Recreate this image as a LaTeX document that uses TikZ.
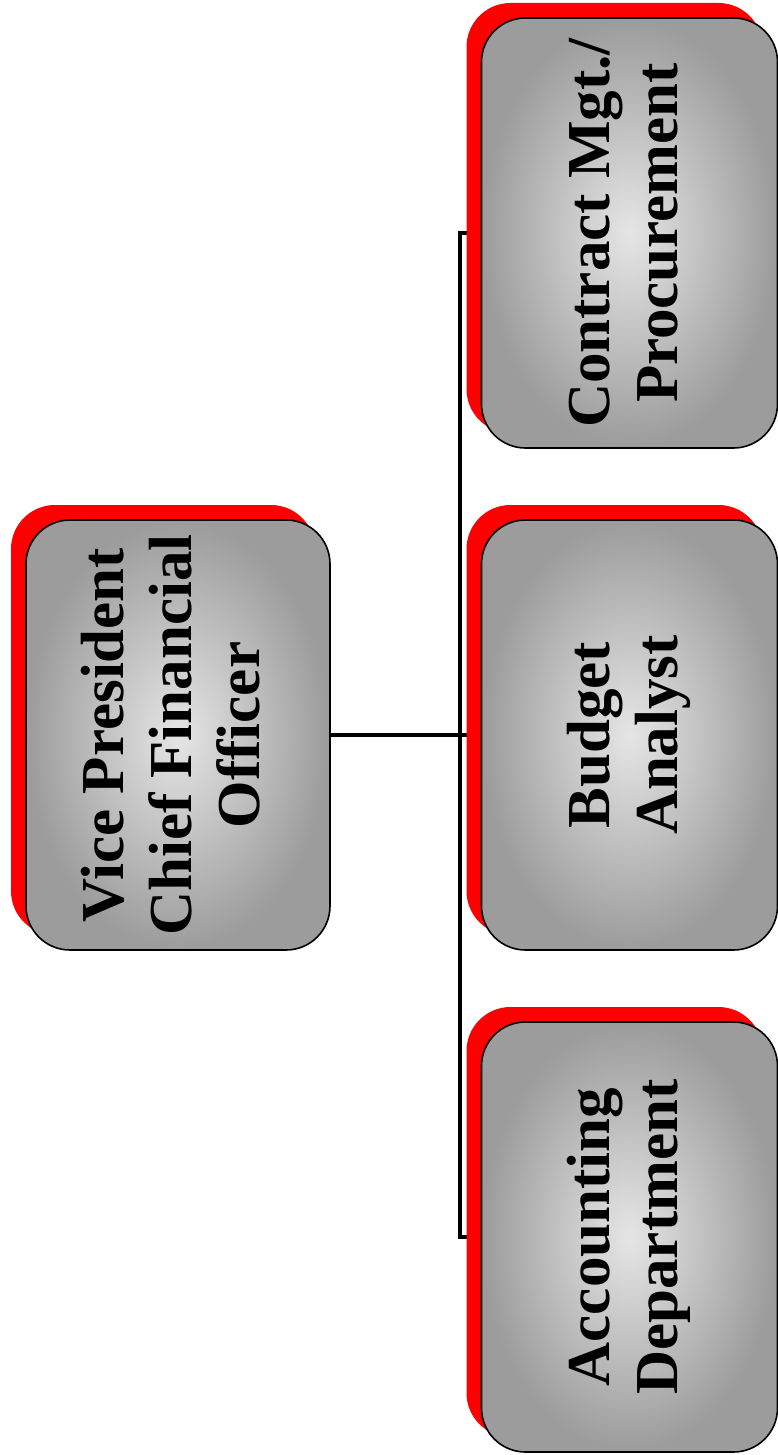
\documentclass[tikz,border=0pt]{standalone}
\usepackage{fontspec}
\setmainfont{Liberation Serif}
\usepackage{graphicx}
\usetikzlibrary{shadows, backgrounds, positioning}

\newcommand{\vlabel}[1]{\rotatebox{90}{\begin{tabular}{@{}c@{}}#1\end{tabular}}}

\begin{document}
\begin{tikzpicture}[
  x=1pt, y=-1pt,
  orgbox/.style={
    draw=black,
    line width=1.6pt,
    rounded corners=44pt,
    shading=radial,
    inner color=gray!20,
    outer color=gray!78,
    minimum width=296pt,
    minimum height=430pt,
    inner sep=0pt,
    font=\fontsize{61}{68}\selectfont\bfseries,
    drop shadow={fill=red, opacity=1, shadow xshift=-15pt, shadow yshift=15pt}
    },
  link/.style={line width=3.8pt, line join=miter}
]

\useasboundingbox (0,0) rectangle (778,1455);

% Chief
\node[orgbox, minimum width=304pt] (vp) at (178,735)
  {\vlabel{Vice President\\Chief Financial\\Officer}};

% Departments
\node[orgbox] (cm) at (629.5,233) {\vlabel{Contract Mgt./\\Procurement}};
\node[orgbox] (ba) at (629.5,735) {\vlabel{Budget\\Analyst}};
\node[orgbox] (ad) at (629.5,1237) {\vlabel{Accounting\\Department}};

\coordinate (trunk) at (460,735);

      % Draw links
      \begin{scope}[on background layer]
      \draw[link] (vp.east) -- (ba.west);
      \draw[link] (cm.west) -| (trunk) |- (ad.west);
      \end{scope}

\end{tikzpicture}
\end{document}
